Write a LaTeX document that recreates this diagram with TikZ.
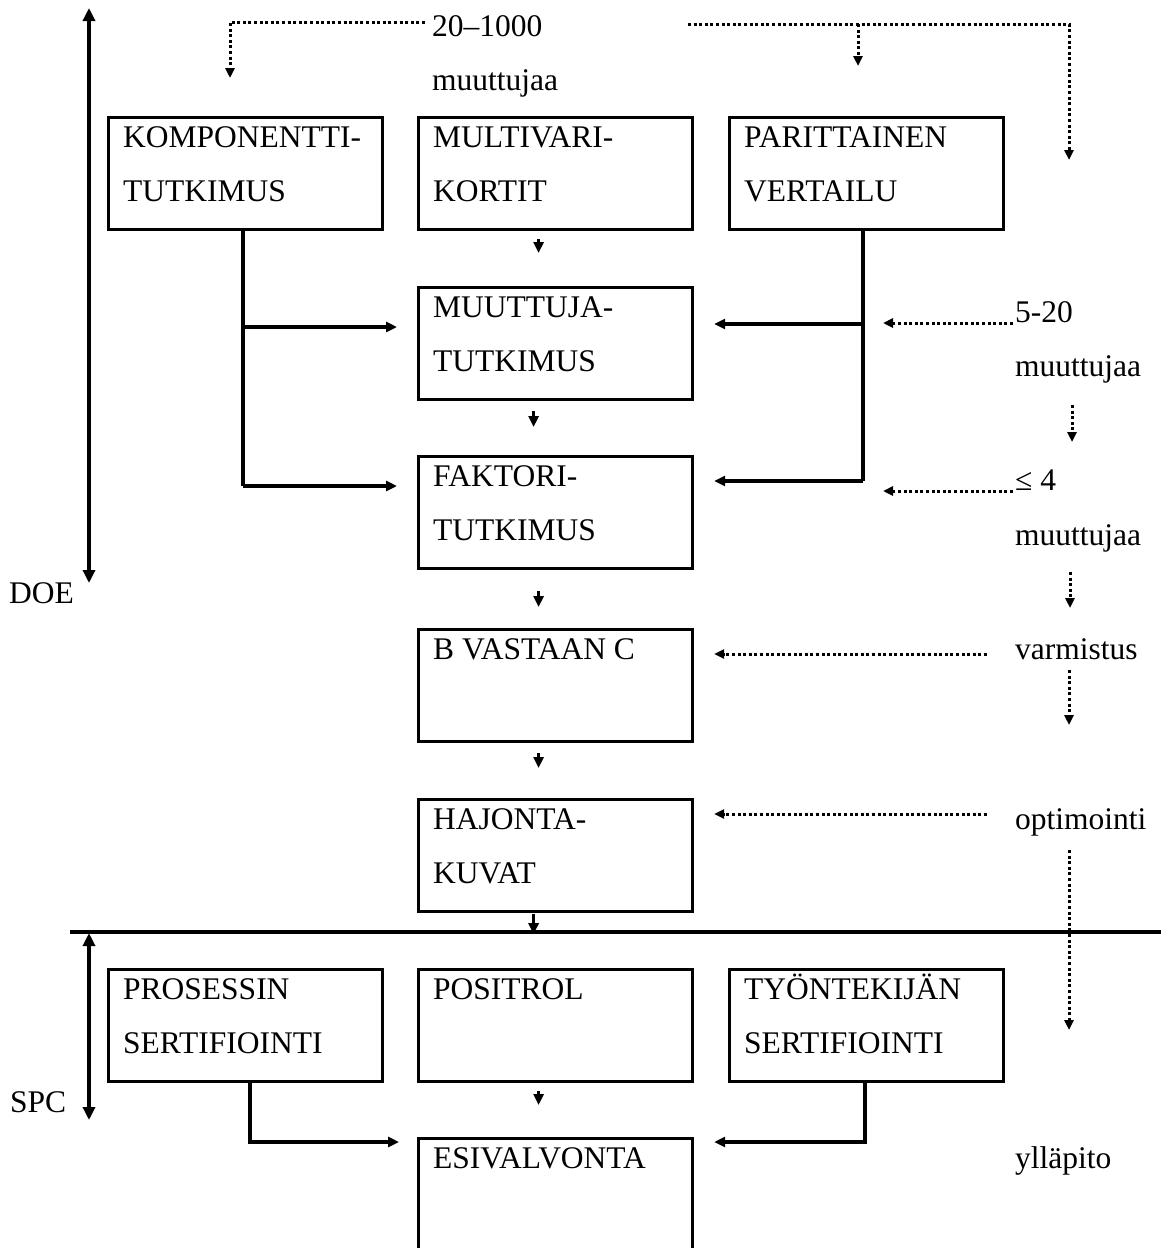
\documentclass[tikz,border=0pt]{standalone}
\usepackage{fontspec}
\setmainfont{Liberation Serif}
\usetikzlibrary{arrows.meta,calc}

% two stacked lines whose baseline is the first one
\newcommand\twolines[2]{\vtop{\hbox{#1}\hbox{#2}}}

\begin{document}
\begin{tikzpicture}[x=1pt,y=-1pt,
  font=\fontsize{31.5}{54}\selectfont,
  box/.style={draw, line width=3.2pt, inner sep=0pt, anchor=north west,
    minimum width=274pt, minimum height=112pt},
  lbl/.style={anchor=base west, inner sep=0pt},
  ln/.style={line width=3.2pt},
  conn/.style={line width=3.2pt, -{Triangle[length=11pt,width=10pt]}},
  dotarr/.style={line width=3pt, dash pattern=on 3pt off 2.6pt,
    -{Triangle[length=10pt,width=9pt]}},
  axis/.style={line width=4.5pt,
    {Triangle[length=13pt,width=12pt]}-{Triangle[length=13pt,width=12pt]}},
]
\useasboundingbox (0,0) rectangle (1161,1248);

% ---- boxes with their captions
\newcommand\stagebox[4]{%
  \node[box] (#1) at (#2,#3) {};
  \node[lbl] (#1T) at ([shift={(16,31)}]#1.north west) {#4};}

\stagebox{komp}{107}{116}{\twolines{KOMPONENTTI-}{TUTKIMUS}}
\stagebox{multi}{417}{116}{\twolines{MULTIVARI-}{KORTIT}}
\stagebox{pari}{728}{116}{\twolines{PARITTAINEN}{VERTAILU}}
\stagebox{muut}{417}{286}{\twolines{MUUTTUJA-}{TUTKIMUS}}
\stagebox{fakt}{417}{455}{\twolines{FAKTORI-}{TUTKIMUS}}
\stagebox{bvc}{417}{628}{B VASTAAN C}
\stagebox{hajo}{417}{798}{\twolines{HAJONTA-}{KUVAT}}
\stagebox{pros}{107}{968}{\twolines{PROSESSIN}{SERTIFIOINTI}}
\stagebox{posi}{417}{968}{POSITROL}
\stagebox{tyon}{728}{968}{\twolines{TYÖNTEKIJÄN}{SERTIFIOINTI}}
% the last box runs past the lower edge of the page
\node[box, minimum height=130pt] (esiv) at (417,1137) {};
\node[lbl] (esivT) at ([shift={(16,31)}]esiv.north west) {ESIVALVONTA};

% ---- DOE / SPC ranges and the dividing line
\coordinate (doeTop) at (89,8);
\coordinate (doeBot) at (89,583);
\draw[axis] (doeTop) -- (doeBot);
\node[lbl] (doe) at (9,603) {DOE};

\coordinate (sepL) at (70,932);
\coordinate (sepR) at (1161,932);
\draw[ln] (sepL) -- (sepR);

\coordinate (spcTop) at (89,933);
\coordinate (spcBot) at (89,1120);
\draw[axis] (spcTop) -- (spcBot);
\node[lbl] (spc) at (10,1112) {SPC};

% ---- flow down the middle column
\draw[conn] ($(multi.south)+(-17,8)$) -- ($(muut.north)+(-17,-33)$);
\draw[conn] ($(muut.south)+(-22,10)$) -- ($(fakt.north)+(-22,-28)$);
\draw[conn] ($(fakt.south)+(-17,21)$) -- ($(bvc.north)+(-17,-21)$);
\draw[conn] ($(bvc.south)+(-17,10)$) -- ($(hajo.north)+(-17,-30)$);
\draw[conn] ($(hajo.south)+(-22,1)$) -- ($(hajo.south)+(-22,21)$);
\draw[conn] ($(posi.south)+(-17,8)$) -- ($(esiv.north)+(-17,-32)$);

% ---- side feeds
\coordinate (kA) at (243,327);
\coordinate (kB) at (243,486);
\draw[ln] (komp.south -| kA) -- (kB);
\draw[conn, shorten >=20pt] (kA) -- (kA -| muut.west);
\draw[conn, shorten >=20pt] (kB) -- (kB -| fakt.west);

\coordinate (pA) at (863,324);
\coordinate (pB) at (863,481);
\draw[ln] (pari.south -| pA) -- (pB);
\draw[conn, shorten >=20pt] (pA) -- (pA -| muut.east);
\draw[conn, shorten >=20pt] (pB) -- (pB -| fakt.east);

\coordinate (sA) at (250,1142);
\draw[conn, shorten >=18pt] (pros.south -| sA) |- (esiv.west |- sA);
\coordinate (tA) at (865,1142);
\draw[conn, shorten >=20pt] (tyon.south -| tA) |- (esiv.east |- tA);

% ---- number of variables and phases on the right
\node[lbl] (n20) at (432,36) {20–1000};
\node[lbl] (n20b) at (432,90) {muuttujaa};
\coordinate (t1) at (425,22);
\coordinate (t1e) at (230,78);
\draw[dotarr] (t1) -| (t1e);
\coordinate (t2) at (688,24);
\coordinate (t2e) at (1069,160);
\draw[dotarr] (t2) -| (t2e);
\coordinate (t3) at (858,24);
\coordinate (t3e) at (858,66);
\draw[dotarr] (t3) -- (t3e);

\node[lbl] (n5) at (1015,322) {5-20};
\node[lbl] (n5b) at (1015,376) {muuttujaa};
\coordinate (r1) at (1013,323);
\coordinate (r1e) at (883,323);
\draw[dotarr] (r1) -- (r1e);
\coordinate (d1) at (1072,405);
\coordinate (d1e) at (1072,442);
\draw[dotarr] (d1) -- (d1e);

\node[lbl] (n4) at (1015,490) {≤ 4};
\node[lbl] (n4b) at (1015,545) {muuttujaa};
\coordinate (r2) at (1013,491);
\coordinate (r2e) at (883,491);
\draw[dotarr] (r2) -- (r2e);
\coordinate (d2) at (1070,572);
\coordinate (d2e) at (1070,608);
\draw[dotarr] (d2) -- (d2e);

\node[lbl] (varm) at (1015,659) {varmistus};
\coordinate (r3) at (987,654);
\draw[dotarr, shorten >=20pt] (r3) -- (r3 -| bvc.east);
\coordinate (d3) at (1069,670);
\coordinate (d3e) at (1069,725);
\draw[dotarr] (d3) -- (d3e);

\node[lbl] (opti) at (1015,829) {optimointi};
\coordinate (r4) at (987,814);
\draw[dotarr, shorten >=20pt] (r4) -- (r4 -| hajo.east);
\coordinate (d4) at (1069,850);
\coordinate (d4e) at (1069,1030);
\draw[dotarr] (d4) -- (d4e);

\node[lbl] (yll) at (1015,1168) {ylläpito};
\end{tikzpicture}
\end{document}
